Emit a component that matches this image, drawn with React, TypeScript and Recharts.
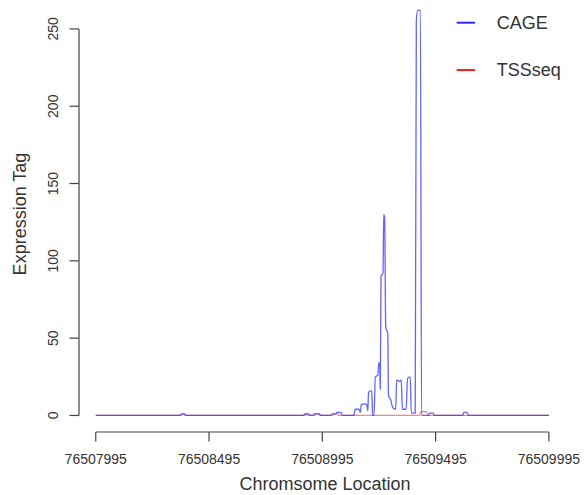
import React from 'react';
import {
  LineChart,
  Line,
  XAxis,
  YAxis,
  ReferenceLine,
} from 'recharts';

// chromosome positions and tag counts
const cagePos = [
  76507995, 76508367, 76508373, 76508384, 76508391, 76508916, 76508922, 76508935,
  76508942, 76508953, 76508960, 76508982, 76508988, 76509032, 76509039, 76509055,
  76509059, 76509077, 76509083, 76509134, 76509140, 76509156, 76509163, 76509167,
  76509182, 76509191, 76509196, 76509199, 76509213, 76509217, 76509223, 76509229,
  76509240, 76509244, 76509248, 76509251, 76509254, 76509263, 76509266, 76509270,
  76509275, 76509284, 76509287, 76509297, 76509306, 76509319, 76509323, 76509337,
  76509343, 76509349, 76509365, 76509371, 76509383, 76509388, 76509405, 76509410,
  76509416, 76509428, 76509433, 76509465, 76509469, 76509484, 76509489, 76509615,
  76509619, 76509634, 76509639, 76509995,
];
const cageVal = [
  0, 0, 1, 1, 0, 0, 1, 1,
  0, 0, 1, 1, 0, 0, 1, 1,
  2, 2, 0, 0, 4, 4, 2, 7,
  7.5, 7, 3, 15, 16, 0, 0, 25,
  26, 34, 34, 17, 90, 92, 130, 128,
  57, 53, 13, 10, 5, 4, 23, 22,
  23, 4, 4, 24, 25, 1.5, 1.5, 255,
  262, 262, 0, 0, 1.5, 1.5, 0, 0,
  2, 2, 0, 0,
];

const tssPos = [
  76507995, 76508371, 76508378, 76508387, 76508393, 76508911, 76508916, 76508927,
  76508931, 76508962, 76508966, 76508979, 76508984, 76509041, 76509046, 76509064,
  76509068, 76509425, 76509429, 76509456, 76509460, 76509995,
];
const tssVal = [
  0, 0, 1, 1, 0, 0, 1, 1,
  0, 0, 1, 1, 0, 0, 1, 1,
  0, 0, 2.5, 2.5, 0, 0,
];

const xTicks = [76507995, 76508495, 76508995, 76509495, 76509995];
const yTicks = [0, 50, 100, 150, 200, 250];

const legendItems = [
  { name: 'CAGE', color: '#2b2bff' },
  { name: 'TSSseq', color: '#ff2020' },
];

const cageData = cagePos.map((pos, i) => ({ pos, value: cageVal[i] }));
const tssData = tssPos.map((pos, i) => ({ pos, value: tssVal[i] }));

const FONT = '"Liberation Sans", Arial, sans-serif';
const TEXT = '#333';
const AXIS = '#444';

function XTick({ x, y, payload }: any) {
  return (
    <text x={x} y={y} dy={22} textAnchor="middle" fontSize={14} fill={TEXT} fontFamily={FONT}>
      {payload.value}
    </text>
  );
}

function YTick({ x, y, payload }: any) {
  const bx = x - 11.2;
  return (
    <text
      x={bx}
      y={y}
      transform={`rotate(-90, ${bx}, ${y})`}
      textAnchor="middle"
      fontSize={14}
      fill={TEXT}
      fontFamily={FONT}
    >
      {payload.value}
    </text>
  );
}

function XTitle({ viewBox }: any) {
  const { x, width } = viewBox;
  return (
    <text x={x + width / 2 + 2} y={490} textAnchor="middle" fontSize={18} fill={TEXT} fontFamily={FONT}>
      Chromsome Location
    </text>
  );
}

function YTitle() {
  return (
    <text
      x={26}
      y={214}
      transform="rotate(-90, 26, 214)"
      textAnchor="middle"
      fontSize={18}
      fill={TEXT}
      fontFamily={FONT}
    >
      Expression Tag
    </text>
  );
}

// R-style legend without a box, top right
function LegendBox() {
  return (
    <svg
      width={147}
      height={90}
      style={{ position: 'absolute', left: 440, top: 0, display: 'block' }}
    >
      {legendItems.map((it, i) => {
        const y = 22.7 + i * 47.3;
        return (
          <g key={it.name}>
            <line x1={16.7} x2={35} y1={y} y2={y} stroke={it.color} strokeWidth={2} />
            <text x={56.7} y={y + 6.3} fontSize={18} fill={TEXT} fontFamily={FONT}>
              {it.name}
            </text>
          </g>
        );
      })}
    </svg>
  );
}

export default function App() {
  return (
    <div style={{ position: 'absolute', left: 0, top: 0, width: 587, height: 495, background: '#fff' }}>
      <LineChart width={587} height={495} margin={{ top: 0, right: 20, bottom: 0, left: 0 }}>
        <XAxis
          dataKey="pos"
          type="number"
          domain={[76507921, 76510075]}
          ticks={xTicks}
          allowDataOverflow
          height={63}
          axisLine={false}
          tickSize={9.5}
          tickMargin={0}
          tickLine={{ stroke: AXIS, strokeWidth: 1.2 }}
          tick={<XTick />}
          interval={0}
          label={<XTitle />}
        />
        <YAxis
          type="number"
          domain={[-10.7, 268.7]}
          ticks={yTicks}
          allowDataOverflow
          width={79}
          axisLine={false}
          tickSize={9.5}
          tickMargin={0}
          tickLine={{ stroke: AXIS, strokeWidth: 1.2 }}
          tick={<YTick />}
          interval={0}
          label={<YTitle />}
        />
        <ReferenceLine
          segment={[{ x: 76507921, y: 0 }, { x: 76507921, y: 250 }]}
          stroke={AXIS}
          strokeWidth={1.2}
          ifOverflow="visible"
        />
        <ReferenceLine
          segment={[{ x: 76507995, y: -10.7 }, { x: 76509995, y: -10.7 }]}
          stroke={AXIS}
          strokeWidth={1.2}
          ifOverflow="visible"
        />
        <Line
          data={tssData}
          dataKey="value"
          name="TSSseq"
          type="monotone"
          stroke="#ff1a1a"
          strokeOpacity={0.55}
          strokeWidth={1.3}
          dot={false}
          isAnimationActive={false}
        />
        <Line
          data={cageData}
          dataKey="value"
          name="CAGE"
          type="monotone"
          stroke="#3c3cff"
          strokeOpacity={0.8}
          strokeWidth={1.3}
          dot={false}
          isAnimationActive={false}
        />
      </LineChart>
      <LegendBox />
    </div>
  );
}
